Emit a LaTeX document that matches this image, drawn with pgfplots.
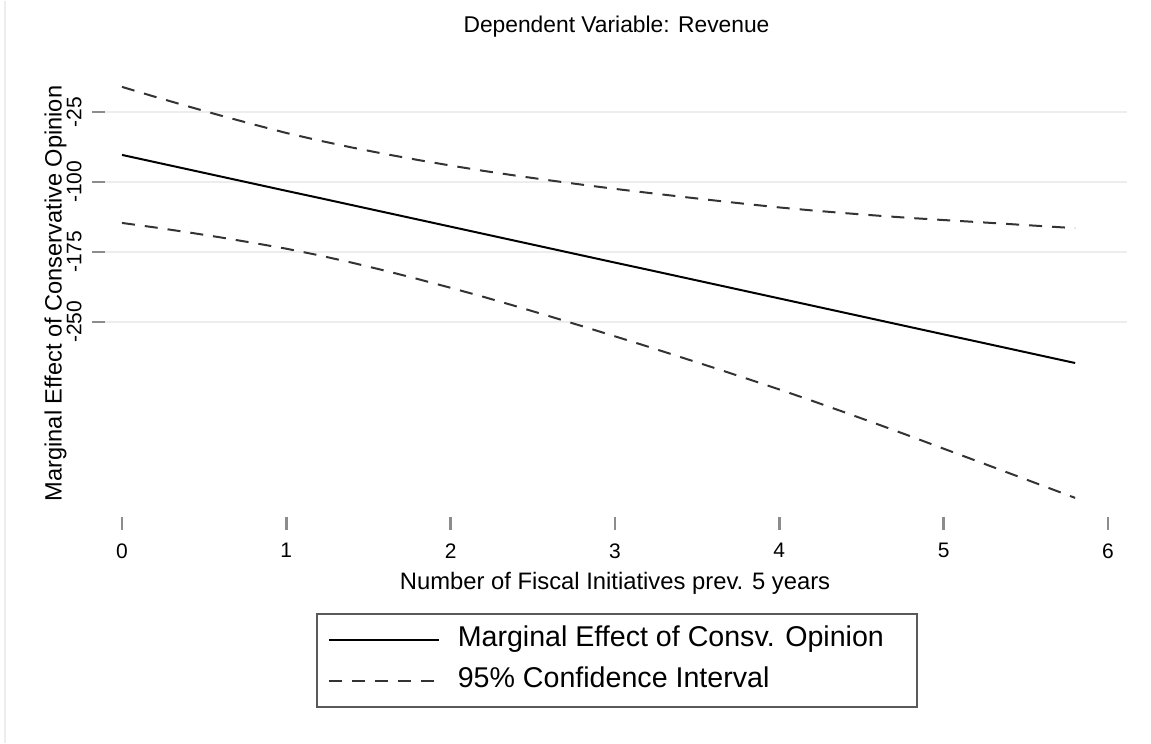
\documentclass[border=0pt]{standalone}
\usepackage{fontspec}
\setmainfont{Liberation Sans}
\usepackage{pgfplots}
\usepackage{pgfplotstable}
\pgfplotsset{compat=1.18}

% Marginal effect of conservative opinion on revenue, with 95% bounds
\pgfplotstableread{
x    est     hi      lo
0.0  -71.0    1.9   -143.9
0.2  -78.7   -8.7   -148.7
0.4  -86.4  -18.9   -153.9
0.6  -94.1  -28.8   -159.4
0.8 -101.8  -38.3   -165.3
1.0 -109.5  -47.5   -171.5
1.2 -117.1  -55.6   -178.6
1.4 -124.8  -63.1   -186.5
1.6 -132.5  -70.0   -195.0
1.8 -140.2  -76.4   -204.0
2.0 -147.9  -82.4   -213.4
2.2 -155.6  -88.1   -223.1
2.4 -163.3  -93.3   -233.3
2.6 -171.0  -98.2   -243.8
2.8 -178.7 -102.9   -254.5
3.0 -186.4 -107.4   -265.4
3.2 -194.0 -111.6   -276.4
3.4 -201.7 -115.7   -287.7
3.6 -209.4 -119.7   -299.0
3.8 -217.1 -123.6   -310.6
4.0 -224.8 -127.3   -322.3
4.2 -232.5 -130.5   -334.5
4.4 -240.2 -133.4   -347.0
4.6 -247.9 -136.1   -359.7
4.8 -255.6 -138.6   -372.6
5.0 -263.3 -140.8   -385.8
5.2 -270.9 -142.9   -398.9
5.4 -278.6 -145.1   -412.1
5.6 -286.3 -147.3   -425.3
5.8 -294.0 -149.5   -438.5
}\effects

\begin{document}
\begin{tikzpicture}
% page frame
\path (0,0) rectangle (575.5pt,-371pt);
\draw[black!7, line width=1pt] (2.25pt,0) -- (2.25pt,-371pt);

\begin{axis}[
  at={(52.5pt,-258pt)}, anchor=south west,
  scale only axis, width=511pt, height=218pt,
  xmin=-0.1034, xmax=6.1156, ymin=-459.0, ymax=8.2,
  axis x line*=bottom, axis y line*=left,
  axis line style={draw=none},
  xtick={0,1,2,3,4,5,6}, xticklabels={0,1,2,3,4,5,6},
  ytick={-250,-175,-100,-25}, yticklabels={-250,-175,-100,-25},
  tick align=outside, major tick length=6.5pt,
  tick style={black!45, line width=1.2pt},
  ymajorgrids, major grid style={black!7, line width=1.1pt},
  ticklabel style={font=\fontsize{10.5}{12}\selectfont, inner sep=0pt},
  yticklabel style={rotate=90, anchor=south},
  xticklabel style={anchor=north},
  xticklabel shift=6.5pt, yticklabel shift=5pt,
  clip=false,
  legend cell align=left,
  legend style={
    at={(0.2065,-0.2202)}, anchor=north west,
    draw=black!65, line width=0.8pt,
    inner xsep=5.5pt, inner ysep=6pt,
    row sep=6.5pt,
    font=\fontsize{14.3}{16}\selectfont,
    nodes={inner sep=0pt, text height=10.5pt, text depth=3.5pt},
  },
  legend image code/.code={\draw[#1, line width=1pt] (0pt,0pt) -- (55pt,0pt); \path (64pt,0pt);},
]
\addplot[black, line width=1pt] table[x=x, y=est] {\effects};
\addlegendentry{\makebox[224pt][l]{Marginal Effect of Consv. Opinion}}
\addplot[black!80, line width=1pt, dash pattern=on 6.5pt off 5pt] table[x=x, y=hi] {\effects};
\addlegendentry{\makebox[224pt][l]{95\% Confidence Interval}}
\addplot[black!80, line width=1pt, dash pattern=on 6.5pt off 5pt, forget plot] table[x=x, y=lo] {\effects};
\end{axis}

\node[anchor=base, font=\fontsize{11.4}{13}\selectfont] at (308.25pt,-15.85pt) {Dependent Variable: Revenue};
\node[anchor=base, font=\fontsize{11.9}{14}\selectfont] at (307.5pt,-294pt) {Number of Fiscal Initiatives prev. 5 years};
\node[anchor=base, rotate=90, font=\fontsize{11.8}{14}\selectfont] at (30.85pt,-146.25pt) {Marginal Effect of Conservative Opinion};
\end{tikzpicture}
\end{document}
